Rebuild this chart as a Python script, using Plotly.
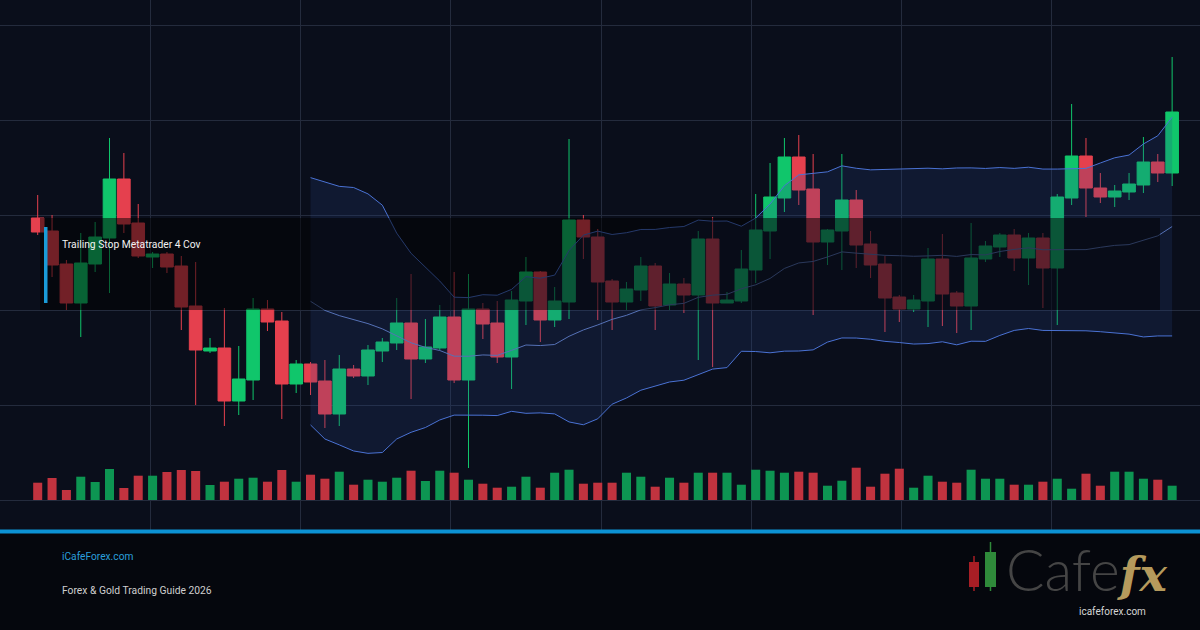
import plotly.graph_objects as go
import pandas as pd

# ---------------- data ----------------
opens = [2382, 2369, 2336, 2297, 2336, 2362, 2421, 2377, 2343, 2346,
         2334, 2294, 2249, 2252, 2199, 2220, 2291, 2279, 2216, 2236,
         2219, 2186, 2231, 2224, 2249, 2257, 2277, 2241, 2252, 2283,
         2220, 2291, 2277, 2243, 2299, 2328, 2280, 2298, 2380, 2363,
         2319, 2298, 2310, 2334, 2295, 2316, 2305, 2361, 2297, 2299,
         2330, 2369, 2402, 2443, 2411, 2358, 2369, 2400, 2356, 2336,
         2303, 2291, 2299, 2341, 2307, 2294, 2341, 2353, 2365, 2342,
         2362, 2332, 2402, 2444, 2412, 2403, 2408, 2415, 2438, 2427]
highs = [2405, 2385, 2340, 2367, 2378, 2462, 2447, 2396, 2348, 2348,
         2344, 2338, 2262, 2292, 2254, 2302, 2300, 2288, 2240, 2238,
         2240, 2245, 2235, 2255, 2262, 2302, 2326, 2281, 2295, 2328,
         2326, 2297, 2299, 2309, 2343, 2329, 2313, 2461, 2385, 2371,
         2321, 2318, 2343, 2337, 2327, 2322, 2369, 2383, 2308, 2350,
         2406, 2437, 2462, 2465, 2446, 2371, 2446, 2410, 2369, 2344,
         2305, 2305, 2352, 2366, 2309, 2377, 2359, 2367, 2371, 2367,
         2367, 2406, 2496, 2462, 2427, 2415, 2427, 2463, 2446, 2543]
lows = [2365, 2323, 2290, 2263, 2328, 2307, 2367, 2342, 2332, 2327,
        2270, 2195, 2247, 2174, 2185, 2200, 2269, 2181, 2207, 2205,
        2172, 2174, 2222, 2215, 2238, 2250, 2201, 2237, 2250, 2217,
        2132, 2261, 2237, 2211, 2275, 2258, 2273, 2281, 2341, 2280,
        2270, 2290, 2299, 2270, 2290, 2287, 2240, 2233, 2297, 2297,
        2317, 2341, 2388, 2395, 2285, 2335, 2330, 2332, 2322, 2268,
        2278, 2288, 2273, 2274, 2267, 2270, 2338, 2343, 2329, 2315,
        2292, 2275, 2395, 2383, 2397, 2393, 2400, 2407, 2418, 2414]
closes = [2368, 2335, 2297, 2337, 2363, 2421, 2376, 2344, 2346, 2333,
          2293, 2250, 2252, 2199, 2221, 2291, 2278, 2216, 2236, 2218,
          2186, 2231, 2224, 2250, 2258, 2277, 2241, 2253, 2283, 2220,
          2291, 2276, 2243, 2300, 2328, 2280, 2299, 2380, 2363, 2318,
          2298, 2311, 2334, 2294, 2316, 2305, 2361, 2297, 2300, 2331,
          2370, 2403, 2443, 2410, 2358, 2370, 2400, 2355, 2335, 2302,
          2291, 2300, 2341, 2306, 2294, 2342, 2354, 2365, 2342, 2362,
          2332, 2403, 2444, 2412, 2403, 2409, 2416, 2438, 2427, 2488]
volumes = [1730, 2200, 1000, 2330, 1800, 3100, 1200, 2430, 2430, 2800,
           3000, 2900, 1500, 1830, 2130, 2230, 1830, 3000, 1830, 2530,
           2130, 2830, 1530, 2030, 1830, 2230, 2930, 1900, 2930, 2730,
           2030, 1630, 1230, 1330, 2330, 1230, 2730, 3030, 1630, 1730,
           1730, 2730, 2330, 1330, 2230, 1730, 2730, 2730, 2730, 1530,
           3030, 2930, 2730, 2830, 2730, 1430, 1930, 3230, 1330, 2630,
           3130, 1230, 2430, 1830, 1730, 3030, 2130, 2130, 1530, 1530,
           1830, 2130, 1130, 2630, 1430, 2830, 2830, 2130, 2030, 1430]
bb_period = 20
bb_k = 2

title_text = "Trailing Stop Metatrader 4 Cov"
site_text = "iCafeForex.com"
subtitle_text = "Forex & Gold Trading Guide 2026"

# ---------------- styling ----------------
W, H = 1200, 630
GREEN = "#10c66b"
RED = "#e5404e"
VGREEN = "#0d9552"
VRED = "#c1333f"
BAND = "#4a72d4"
GRID = "#242b3d"

x = list(range(len(opens)))
s = pd.Series(closes, dtype=float)
mid = s.rolling(bb_period).mean()
sd = s.rolling(bb_period).std(ddof=0)
upper = mid + bb_k * sd
lower = mid - bb_k * sd
start = bb_period - 1
xb = x[start:]

vol_colors = [VGREEN if c >= o else VRED for o, c in zip(opens, closes)]

fig = go.Figure()
fig.add_trace(go.Scatter(x=xb, y=upper[start:].tolist(), mode="lines",
                         line=dict(color=BAND, width=1), hoverinfo="skip"))
fig.add_trace(go.Scatter(x=xb, y=lower[start:].tolist(), mode="lines",
                         line=dict(color=BAND, width=1), fill="tonexty",
                         fillcolor="rgba(40,70,140,0.20)", hoverinfo="skip"))
fig.add_trace(go.Scatter(x=xb, y=mid[start:].tolist(), mode="lines",
                         line=dict(color="#5571b6", width=1), hoverinfo="skip"))
fig.add_trace(go.Candlestick(
    x=x, open=opens, high=highs, low=lows, close=closes,
    increasing=dict(line=dict(color=GREEN, width=1), fillcolor=GREEN),
    decreasing=dict(line=dict(color=RED, width=1), fillcolor=RED),
    whiskerwidth=0, hoverinfo="skip"))
fig.add_trace(go.Bar(x=x, y=volumes, yaxis="y2", width=0.63,
                     marker=dict(color=vol_colors, line=dict(width=0)),
                     hoverinfo="skip"))

# pixel helpers for paper-referenced decorations
def px(v):
    return v / W

def py(v):
    return 1 - v / H

# x-axis: candle i sits at 37.7 + 14.36*i px
step = 14.36
x0px = 37.7
xr = [-x0px / step, (W - x0px) / step]

shapes = [
    # darkened title band over the chart
    dict(type="rect", xref="paper", yref="paper", x0=px(40), x1=px(1160),
         y0=py(310), y1=py(218), fillcolor="rgba(0,0,0,0.5)",
         line=dict(width=0), layer="above"),
    # blue accent bar
    dict(type="rect", xref="paper", yref="paper", x0=px(44), x1=px(47.5),
         y0=py(303), y1=py(227), fillcolor="#1a9bd7",
         line=dict(width=0), layer="above"),
    # blue separator line
    dict(type="rect", xref="paper", yref="paper", x0=0, x1=1,
         y0=py(533.5), y1=py(529.5), fillcolor="#0c92d4",
         line=dict(width=0), layer="above"),
    # logo candles
    dict(type="line", xref="paper", yref="paper", x0=px(974), x1=px(974),
         y0=py(591), y1=py(556), line=dict(color="#a81e25", width=1.5), layer="above"),
    dict(type="rect", xref="paper", yref="paper", x0=px(969), x1=px(979),
         y0=py(587), y1=py(562), fillcolor="#a81e25", line=dict(width=0), layer="above"),
    dict(type="line", xref="paper", yref="paper", x0=px(990.5), x1=px(990.5),
         y0=py(591), y1=py(542), line=dict(color="#2f8a3a", width=1.5), layer="above"),
    dict(type="rect", xref="paper", yref="paper", x0=px(985), x1=px(996),
         y0=py(587), y1=py(552), fillcolor="#2f8a3a", line=dict(width=0), layer="above"),
]

logo_text = ("Cafe<span style='font-family:DejaVu Serif;font-weight:bold;"
             "font-style:italic;color:#b59a5c;font-size:46px'>fx</span>")

annotations = [
    dict(text=title_text, xref="paper", yref="paper", x=px(60), y=py(245),
         xanchor="left", yanchor="middle", showarrow=False,
         font=dict(family="Roboto", size=10.3, color="#f2f2f2")),
    dict(text=site_text, xref="paper", yref="paper", x=px(60), y=py(556),
         xanchor="left", yanchor="middle", showarrow=False,
         font=dict(family="Roboto", size=10.2, color="#2a9fdb")),
    dict(text=subtitle_text, xref="paper", yref="paper", x=px(60), y=py(590),
         xanchor="left", yanchor="middle", showarrow=False,
         font=dict(family="Roboto", size=10.3, color="#cfcfcf")),
    dict(text=logo_text, xref="paper", yref="paper", x=px(1004), y=py(569),
         xanchor="left", yanchor="middle", showarrow=False,
         font=dict(family="Lato", size=57, color="#454545", weight=300)),
    dict(text="icafeforex.com", xref="paper", yref="paper", x=px(1112), y=py(611),
         xanchor="center", yanchor="middle", showarrow=False,
         font=dict(family="Roboto", size=10, color="#d6d6d6")),
]

fig.update_layout(
    width=W, height=H,
    margin=dict(l=0, r=0, t=0, b=0),
    paper_bgcolor="#05070d",
    plot_bgcolor="#0a0e1b",
    showlegend=False,
    hovermode=False,
    boxgap=0.12, boxgroupgap=0,
    xaxis=dict(range=xr, domain=[0, 1], showticklabels=False, zeroline=False,
               showline=False, showgrid=True, gridcolor=GRID, gridwidth=1,
               tickmode="linear", tick0=(150.4 - x0px) / step, dtick=150.2 / step,
               ticks="", rangeslider=dict(visible=False), fixedrange=True),
    yaxis=dict(range=[2070, 2600], domain=[100 / H, 1], showticklabels=False,
               zeroline=False, showline=False, showgrid=True, gridcolor=GRID,
               gridwidth=1, tickmode="linear", tick0=2100, dtick=95, ticks="",
               fixedrange=True),
    yaxis2=dict(range=[-3000, 50000], overlaying="y", visible=False,
                showgrid=False, fixedrange=True),
    shapes=shapes,
    annotations=annotations,
)

fig.write_html("out.html")
